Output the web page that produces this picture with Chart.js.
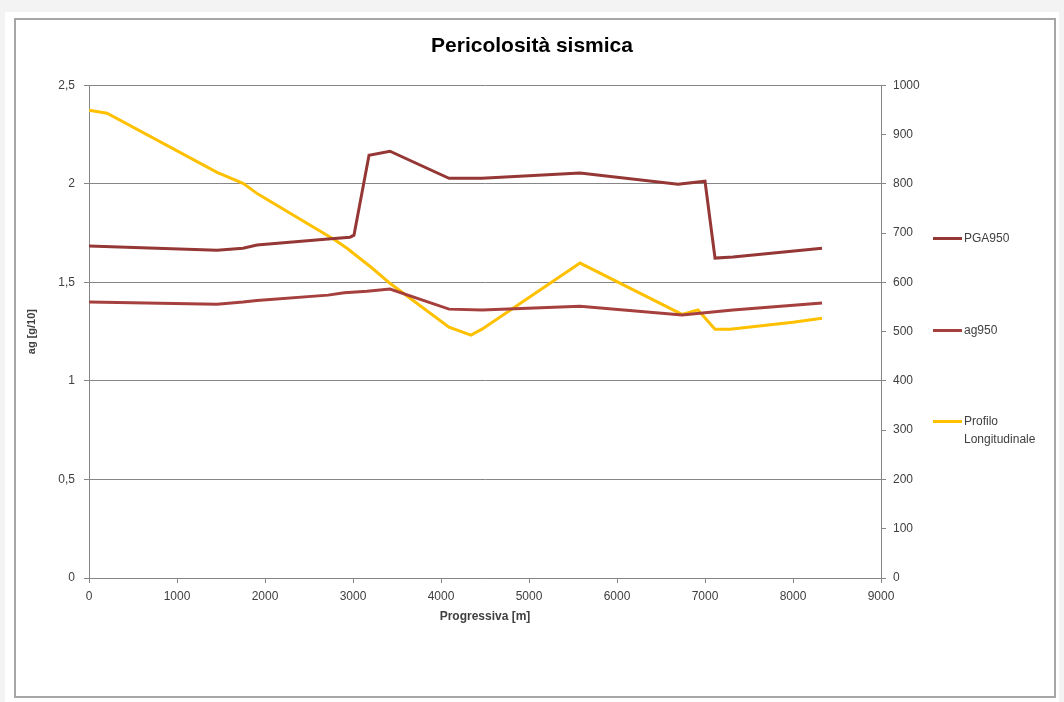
<!DOCTYPE html>
<html>
<head>
<meta charset="utf-8">
<script src="https://cdn.jsdelivr.net/npm/chart.js@4/dist/chart.umd.min.js"></script>
<style>
  html, body { margin:0; padding:0; width:1064px; height:702px; overflow:hidden; background:#ffffff; }
  #bandTop { position:absolute; left:0; top:0; width:1064px; height:12px; background:#f3f3f3; }
  #bandLeft { position:absolute; left:0; top:0; width:5px; height:702px; background:#f3f3f3; }
  #bandRight { position:absolute; left:1059px; top:0; width:5px; height:702px; background:#f3f3f3; }
  #frame { position:absolute; left:14px; top:18px; width:1038px; height:676px; border:2px solid #a6a6a6; background:#fff; }
  #c { position:absolute; left:0; top:0; }
  .lg { position:absolute; font-family:"Liberation Sans", Arial, sans-serif; font-size:12px; color:#404040; line-height:18px; }
  .ll { position:absolute; width:29px; height:3px; }
</style>
</head>
<body>
<div id="bandTop"></div><div id="bandLeft"></div><div id="bandRight"></div>
<div id="frame"></div>
<canvas id="c" width="1064" height="702"></canvas>
<div id="legend"></div>
<script>
// ---- data ----
const seriesNames = ["PGA950", "ag950", "Profilo Longitudinale"];
const pgaX = [0, 1455, 1750, 1909, 2716, 2966, 3011, 3182, 3420, 4091, 4466, 5580, 6693, 7000, 7114, 7318, 8330];
const pgaY = [1.684, 1.663, 1.673, 1.689, 1.720, 1.729, 1.739, 2.145, 2.165, 2.028, 2.028, 2.054, 1.998, 2.013, 1.623, 1.628, 1.673];
const agX = [0, 1455, 1750, 1909, 2716, 2900, 3159, 3420, 4091, 4466, 5580, 6739, 7318, 8330];
const agY = [1.400, 1.389, 1.400, 1.408, 1.435, 1.447, 1.455, 1.466, 1.364, 1.359, 1.379, 1.334, 1.359, 1.395];
const profX = [0, 205, 1455, 1750, 1920, 2795, 2932, 3216, 3420, 4091, 4341, 4466, 5580, 6739, 6920, 7114, 7284, 8000, 8330];
const profY = [949, 943, 823, 801, 779, 686, 669, 629, 598, 509, 493, 505, 639, 535, 544, 505, 505, 519, 527];
const xTicks = [0, 1000, 2000, 3000, 4000, 5000, 6000, 7000, 8000, 9000];
const leftTicks = [0, 0.5, 1, 1.5, 2, 2.5];
const rightTicks = [0, 100, 200, 300, 400, 500, 600, 700, 800, 900, 1000];

const colPGA = "#953735";
const colAG = "#a5403e";
const colProf = "#ffc000";
const axisGray = "#868686";
const font = "'Liberation Sans', Arial, sans-serif";

const zip = (xs, ys) => xs.map((x, i) => ({ x: x, y: ys[i] }));

const chart = new Chart(document.getElementById("c"), {
  type: "line",
  data: {
    datasets: [
      { label: seriesNames[0], data: zip(pgaX, pgaY), borderColor: colPGA, borderWidth: 3, pointRadius: 0, yAxisID: "y", tension: 0 },
      { label: seriesNames[1], data: zip(agX, agY), borderColor: colAG, borderWidth: 3, pointRadius: 0, yAxisID: "y", tension: 0 },
      { label: seriesNames[2], data: zip(profX, profY), borderColor: colProf, borderWidth: 3, pointRadius: 0, yAxisID: "y2", tension: 0 }
    ]
  },
  options: {
    responsive: false,
    animation: false,
    layout: { padding: { left: 0, right: 0, top: 0, bottom: 74 } },
    plugins: {
      legend: { display: false },
      tooltip: { enabled: false },
      title: {
        display: true,
        text: "Pericolosità sismica",
        color: "#000000",
        font: { family: font, size: 21, weight: "bold", lineHeight: 1.2 },
        padding: { top: 34, bottom: 26 }
      }
    },
    scales: {
      x: {
        type: "linear",
        min: 0, max: 9000,
        afterFit: s => { s.height = 50; },
        afterBuildTicks: s => { s.ticks = xTicks.map(v => ({ value: v })); },
        ticks: { color: "#404040", font: { family: font, size: 12 }, padding: 6, callback: v => String(v), maxRotation: 0 },
        grid: { drawOnChartArea: false, drawTicks: true, tickLength: 5, color: axisGray },
        border: { color: axisGray, width: 1 },
        title: { display: true, text: "Progressiva [m]", color: "#404040", font: { family: font, size: 12, weight: "bold" }, padding: { top: 4, bottom: 4 } }
      },
      y: {
        position: "left",
        min: 0, max: 2.5,
        afterFit: s => { s.width = 89; },
        afterBuildTicks: s => { s.ticks = leftTicks.map(v => ({ value: v })); },
        ticks: { color: "#404040", font: { family: font, size: 12 }, padding: 9, callback: v => String(v).replace(".", ",") },
        grid: { color: axisGray, lineWidth: 1, tickLength: 5 },
        border: { color: axisGray, width: 1 },
        title: { display: true, text: "ag [g/10]", color: "#404040", font: { family: font, size: 11, weight: "bold" }, padding: { top: 25, bottom: 4 } }
      },
      y2: {
        position: "right",
        min: 0, max: 1000,
        afterFit: s => { s.width = 183; },
        afterBuildTicks: s => { s.ticks = rightTicks.map(v => ({ value: v })); },
        ticks: { color: "#404040", font: { family: font, size: 12 }, padding: 7, callback: v => String(v) },
        grid: { drawOnChartArea: false, tickLength: 5, color: axisGray },
        border: { color: axisGray, width: 1 }
      }
    }
  }
});

// HTML legend (real text)
const legendItems = [
  { name: seriesNames[0], color: colPGA, y: 238, lines: ["PGA950"] },
  { name: seriesNames[1], color: colAG, y: 330, lines: ["ag950"] },
  { name: seriesNames[2], color: colProf, y: 421, lines: ["Profilo", "Longitudinale"] }
];
const lg = document.getElementById("legend");
legendItems.forEach(it => {
  const l = document.createElement("div");
  l.className = "ll";
  l.style.left = "933px";
  l.style.top = (it.y - 1.5) + "px";
  l.style.background = it.color;
  lg.appendChild(l);
  const t = document.createElement("div");
  t.className = "lg";
  t.style.left = "964px";
  t.style.top = (it.y - 9) + "px";
  t.innerHTML = it.lines.join("<br>");
  lg.appendChild(t);
});
</script>
</body>
</html>
